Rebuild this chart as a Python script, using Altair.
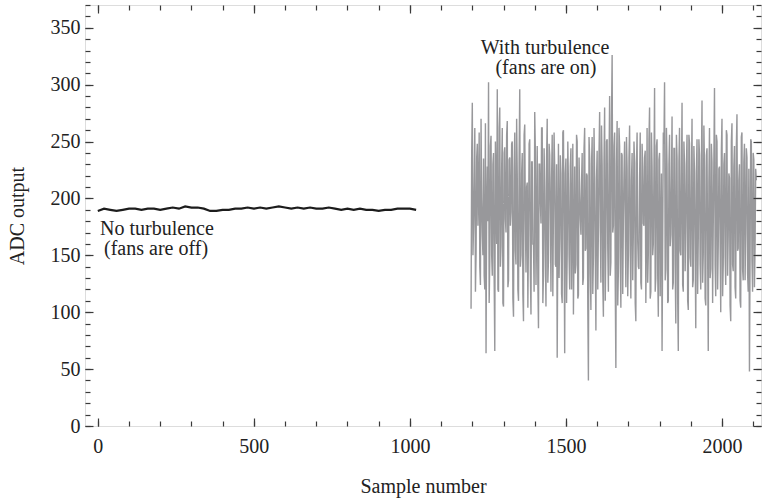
import altair as alt
import pandas as pd

# ---- data ----
calm_step = 20
calm_values = [189, 191, 190, 189, 190, 191, 191, 190, 191, 191,
               190, 191, 192, 191, 193, 192, 192, 191, 189, 189,
               190, 190, 191, 191, 192, 191, 192, 191, 192, 193,
               192, 191, 192, 191, 192, 191, 191, 192, 191, 190,
               191, 190, 191, 190, 190, 189, 190, 190, 191, 191,
               191, 190]

turb_start = 1196
turb_step = 4
# samples at 1196, 1200, 1204, ...
turb_values_a = [103, 284, 175, 262, 150, 248, 205, 140, 270, 168,
                 235, 120, 64, 228, 302, 145, 255, 132, 240, 66,
                 212, 296, 118, 280, 158, 262, 105, 245, 170, 268,
                 128, 236, 188, 250, 96, 258, 142, 222, 110, 296,
                 150, 240, 92, 265, 135, 214, 170, 252, 98, 232,
                 160, 276, 124, 246, 86, 230, 178, 262, 132, 210,
                 105, 270, 146, 238, 118, 256, 190, 226, 140, 60,
                 248, 165, 222, 108, 260, 64, 235, 150, 212, 120,
                 244, 176, 98, 228, 142, 250, 115, 206, 168, 240,
                 130, 262, 156, 220, 40, 236, 102, 254, 148, 218,
                 84, 242, 172, 276, 126, 230, 96, 280, 160, 252,
                 118, 290, 144, 326, 176, 258, 51, 268, 136, 246,
                 104, 238, 182, 250, 122, 226, 150, 264, 112, 240,
                 170, 232, 92, 258, 140, 218, 126, 248, 178, 236,
                 108, 262, 152, 280, 118, 228, 160, 297, 130, 252,
                 96, 240, 174, 66, 258, 302, 138, 228, 110, 256,
                 168, 272, 126, 244, 90, 236, 66, 262, 150, 284,
                 118, 230, 176, 256, 102, 248, 140, 270, 128, 222,
                 86, 252, 164, 238, 120, 286, 150, 226, 106, 244,
                 66, 262, 138, 232, 176, 297, 114, 250, 158, 228,
                 100, 270, 142, 240, 124, 256, 168, 218, 92, 266,
                 136, 246, 112, 274, 156, 230, 104, 258, 128, 248,
                 170, 236, 118, 48, 252, 146, 240, 122, 226]
# samples at 1198, 1202, 1206, ...
turb_values_b = [240, 150, 212, 118, 236, 176, 258, 124, 200, 150,
                 132, 266, 190, 180, 108, 246, 150, 230, 130, 250,
                 160, 120, 262, 140, 226, 108, 240, 182, 256, 122,
                 234, 176, 248, 112, 226, 154, 270, 120, 236, 140,
                 222, 116, 256, 180, 210, 104, 248, 134, 232, 160,
                 118, 242, 170, 126, 230, 196, 262, 108, 244, 150,
                 236, 126, 248, 188, 218, 114, 258, 142, 230, 166,
                 130, 238, 116, 258, 172, 222, 108, 250, 150, 228,
                 120, 248, 158, 134, 256, 112, 236, 182, 214, 124,
                 244, 154, 222, 106, 254, 134, 230, 116, 262, 150,
                 218, 120, 240, 176, 264, 126, 234, 110, 250, 156,
                 228, 132, 272, 170, 246, 124, 230, 106, 262, 148,
                 240, 116, 222, 176, 254, 114, 236, 154, 216, 128,
                 250, 108, 230, 162, 138, 258, 120, 228, 176, 242,
                 168, 126, 252, 112, 258, 150, 226, 118, 246, 134,
                 234, 114, 222, 162, 248, 128, 262, 108, 230, 158,
                 216, 120, 244, 142, 256, 112, 232, 154, 222, 124,
                 250, 136, 228, 110, 256, 148, 220, 122, 246, 156,
                 224, 116, 252, 142, 230, 126, 264, 112, 238, 152,
                 214, 130, 248, 108, 234, 142, 256, 120, 226, 160,
                 242, 114, 230, 150, 260, 132, 222, 106, 250, 142,
                 228, 122, 246, 154, 216, 110, 254, 138, 232, 128,
                 244, 134, 226, 148, 250, 118, 234, 158, 216]

x_major = [0, 500, 1000, 1500, 2000]
x_minor = list(range(0, 2101, 100))
y_major = [0, 50, 100, 150, 200, 250, 300, 350]
y_minor = list(range(0, 371, 10))

notes_left = ["No turbulence", "(fans are off)"]
notes_left_x = [7, 20]
notes_left_y = [168, 150]
notes_center = ["With turbulence", "(fans are on)"]
notes_center_x = [1433, 1436]
notes_center_y = [327, 309]

calm = pd.DataFrame({"sample": [i * calm_step for i in range(len(calm_values))],
                     "adc": calm_values})
turb_x, turb_y = [], []
for i in range(len(turb_values_a)):
    turb_x.append(turb_start + i * turb_step)
    turb_y.append(turb_values_a[i])
    if i < len(turb_values_b):
        turb_x.append(turb_start + i * turb_step + turb_step // 2)
        turb_y.append(turb_values_b[i])
turb = pd.DataFrame({"sample": turb_x, "adc": turb_y})
nl = pd.DataFrame({"sample": notes_left_x, "adc": notes_left_y, "t": notes_left})
nc = pd.DataFrame({"sample": notes_center_x, "adc": notes_center_y, "t": notes_center})

XD = [-41, 2125]
YD = [0, 370]
W, H = 676, 421
FONT = "Liberation Serif"
TICK = "#3a3a3a"


def X(axis):
    return alt.X("sample:Q", scale=alt.Scale(domain=XD, nice=False, zero=False), axis=axis)


def Y(axis):
    return alt.Y("adc:Q", scale=alt.Scale(domain=YD, nice=False, zero=False), axis=axis)


def tick_axis(orient, offset, values, size):
    return alt.Axis(orient=orient, offset=offset, values=values, labels=False,
                    domain=False, grid=False, tickSize=size, tickColor=TICK,
                    tickWidth=1.2, title=None, zindex=2)


calm_line = alt.Chart(calm).mark_line(color="#1c1c1c", strokeWidth=2.2).encode(
    x=X(alt.Axis(orient="bottom", values=x_major, format="d", ticks=False, domain=False,
                 grid=False, labelFont=FONT, labelFontSize=20, labelColor="#222",
                 labelPadding=10, title="Sample number", titleFont=FONT, titleFontSize=20,
                 titleFontWeight="normal", titleColor="#222", titlePadding=20)),
    y=Y(alt.Axis(orient="left", values=y_major, format="d", ticks=False, domain=False,
                 grid=False, labelFont=FONT, labelFontSize=20, labelColor="#222",
                 labelPadding=5, title="ADC output", titleFont=FONT, titleFontSize=20,
                 titleFontWeight="normal", titleColor="#222", titlePadding=23)),
)

turb_line = alt.Chart(turb).mark_line(color="#98989b", strokeWidth=1.4).encode(
    x=X(tick_axis("top", -H, x_major, 8)),
    y=Y(tick_axis("right", -W, y_major, 8)),
)

ghost1 = alt.Chart(turb).mark_point(opacity=0).encode(
    x=X(tick_axis("bottom", -H, x_major, 8)),
    y=Y(tick_axis("left", -W, y_major, 8)),
)
ghost2 = alt.Chart(turb).mark_point(opacity=0).encode(
    x=X(tick_axis("top", -H, x_minor, 5)),
    y=Y(tick_axis("right", -W, y_minor, 5)),
)
ghost3 = alt.Chart(turb).mark_point(opacity=0).encode(
    x=X(tick_axis("bottom", -H, x_minor, 5)),
    y=Y(tick_axis("left", -W, y_minor, 5)),
)

text_left = alt.Chart(nl).mark_text(align="left", baseline="alphabetic", font=FONT,
                                    fontSize=20, color="#222").encode(
    x=X(None), y=Y(None), text="t:N")
text_center = alt.Chart(nc).mark_text(align="center", baseline="alphabetic", font=FONT,
                                      fontSize=20, color="#222").encode(
    x=X(None), y=Y(None), text="t:N")

chart = alt.layer(
    calm_line, turb_line, ghost1, ghost2, ghost3, text_left, text_center
).resolve_axis(x="independent", y="independent").properties(
    width=W, height=H,
    autosize=alt.AutoSizeParams(type="none"),
    padding={"left": 85, "top": 5, "right": 1, "bottom": 75},
).configure_view(stroke="#333333", strokeWidth=1.5).configure(background="white")

chart.save("out.html", embed_options={"renderer": "svg", "actions": False})
